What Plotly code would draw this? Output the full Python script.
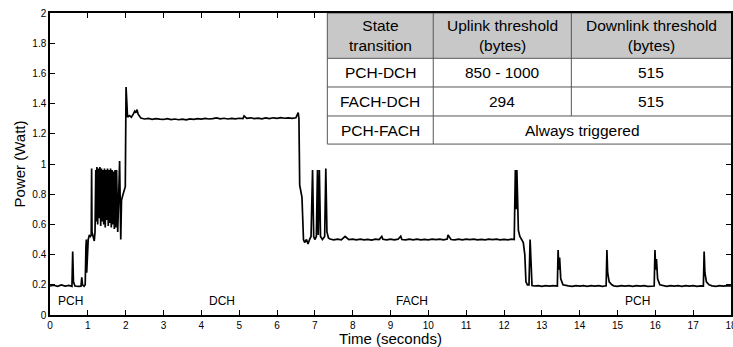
import plotly.graph_objects as go

# ---------------- data ----------------
time_s = [
    0.00, 0.10, 0.20, 0.30, 0.40, 0.50, 0.58, 0.60, 0.62, 0.66, 0.75, 0.82, 0.84, 0.86, 0.90, 0.93,
    0.95, 0.96, 0.97, 0.99, 1.01, 1.04, 1.07, 1.09, 1.10, 1.11, 1.14, 1.17, 1.19, 1.21,
    1.22, 1.24, 1.26, 1.28, 1.30, 1.32, 1.34, 1.36, 1.38, 1.40, 1.42, 1.44, 1.46, 1.48, 1.50,
    1.52, 1.54, 1.56, 1.58, 1.60, 1.62, 1.64, 1.66, 1.68, 1.70, 1.72, 1.74, 1.76, 1.79, 1.82,
    1.84, 1.87, 1.89, 1.92, 1.96, 1.99, 2.01, 2.03, 2.05, 2.10, 2.15, 2.20, 2.24, 2.27, 2.30,
    2.33, 2.37,
    2.4, 2.5, 2.6, 2.7, 2.8, 2.9, 3.0, 3.1, 3.2, 3.3, 3.4, 3.5, 3.6, 3.7, 3.8, 3.9, 4.0, 4.1,
    4.2, 4.3, 4.4, 4.5, 4.6, 4.7, 4.8, 4.9, 5.0, 5.1, 5.13, 5.2, 5.3, 5.4, 5.5, 5.6, 5.7, 5.8,
    5.9, 6.0, 6.1, 6.2, 6.3, 6.4, 6.5,
    6.56, 6.58, 6.60, 6.63, 6.66, 6.70, 6.73, 6.78, 6.82, 6.86, 6.90, 6.94, 6.97, 7.00, 7.04,
    7.07, 7.09, 7.12, 7.15, 7.20, 7.26, 7.29, 7.32, 7.36,
    7.4, 7.5, 7.6, 7.7, 7.8, 7.9, 8.0, 8.1, 8.2, 8.3, 8.4, 8.5, 8.6, 8.7, 8.77, 8.8, 8.9, 9.0,
    9.1, 9.2, 9.27, 9.3, 9.4, 9.5, 9.6, 9.7, 9.8, 9.9, 10.0, 10.1, 10.2, 10.3, 10.4, 10.5,
    10.52, 10.6, 10.7, 10.8, 10.9, 11.0, 11.1, 11.2, 11.3, 11.4, 11.5, 11.6, 11.7, 11.8, 11.9,
    12.0, 12.1, 12.2, 12.27,
    12.30, 12.32, 12.34, 12.38, 12.42, 12.47, 12.51, 12.55, 12.58, 12.62, 12.66, 12.69, 12.71,
    12.74,
    12.8, 12.9, 13.0, 13.1, 13.2, 13.3, 13.41, 13.43, 13.45, 13.47, 13.50, 13.56, 13.7, 13.8,
    13.9, 14.0, 14.1, 14.2, 14.3, 14.4, 14.5, 14.6, 14.70, 14.72, 14.74, 14.78, 14.85, 14.9,
    15.0, 15.1, 15.2, 15.3, 15.4, 15.5, 15.6, 15.7, 15.8, 15.9, 15.97, 15.99, 16.01, 16.03,
    16.06, 16.12, 16.2, 16.3, 16.4, 16.5, 16.6, 16.7, 16.8, 16.9, 17.0, 17.1, 17.2, 17.27,
    17.29, 17.31, 17.35, 17.42, 17.5, 17.6, 17.7, 17.8, 17.9, 18.0,
]
power_w = [
    0.192, 0.197, 0.190, 0.199, 0.191, 0.196, 0.190, 0.420, 0.220, 0.192, 0.190, 0.191, 0.250, 0.200, 0.190, 0.200,
    0.450, 0.500, 0.280, 0.450, 0.500, 0.530, 0.520, 0.530, 0.970, 0.550, 0.520, 0.490, 0.550, 0.960,
    0.620, 0.980, 0.600, 0.970, 0.640, 0.980, 0.590, 0.970, 0.620, 0.960, 0.600, 0.970, 0.580, 0.960, 0.630,
    0.970, 0.590, 0.960, 0.610, 0.970, 0.580, 0.960, 0.600, 0.950, 0.570, 0.960, 0.580, 0.960, 0.550, 0.980,
    1.020, 0.500, 0.760, 0.790, 0.830, 0.850, 1.510, 1.350, 1.310, 1.320, 1.310, 1.330, 1.350, 1.340, 1.360,
    1.330, 1.310,
    1.305, 1.298, 1.302, 1.296, 1.301, 1.297, 1.295, 1.300, 1.294, 1.298, 1.293, 1.297, 1.292, 1.299, 1.296, 1.301, 1.297, 1.302,
    1.298, 1.300, 1.305, 1.299, 1.303, 1.298, 1.302, 1.299, 1.303, 1.300, 1.318, 1.302, 1.306, 1.300, 1.304, 1.299, 1.305, 1.301,
    1.306, 1.302, 1.307, 1.303, 1.306, 1.302, 1.306,
    1.340, 1.300, 0.860, 0.810, 0.780, 0.500, 0.480, 0.500, 0.470, 0.500, 0.520, 0.960, 0.520, 0.500, 0.520,
    0.960, 0.530, 0.960, 0.520, 0.500, 0.520, 0.970, 0.550, 0.510,
    0.503, 0.498, 0.502, 0.497, 0.520, 0.499, 0.503, 0.497, 0.502, 0.498, 0.501, 0.496, 0.502, 0.499, 0.520, 0.501, 0.497, 0.503,
    0.498, 0.502, 0.522, 0.500, 0.497, 0.502, 0.498, 0.503, 0.497, 0.501, 0.498, 0.503, 0.499, 0.502, 0.497, 0.503,
    0.530, 0.500, 0.497, 0.502, 0.498, 0.503, 0.499, 0.502, 0.497, 0.501, 0.498, 0.503, 0.499, 0.502, 0.497,
    0.501, 0.498, 0.502, 0.500,
    0.960, 0.700, 0.960, 0.560, 0.520, 0.500, 0.480, 0.400, 0.220, 0.200, 0.200, 0.500, 0.300,
    0.195,
    0.192, 0.195, 0.190, 0.194, 0.191, 0.195, 0.192, 0.430, 0.300, 0.380, 0.240, 0.200, 0.193, 0.190,
    0.195, 0.191, 0.194, 0.190, 0.195, 0.191, 0.194, 0.190, 0.193, 0.430, 0.280, 0.220, 0.200, 0.193,
    0.190, 0.195, 0.191, 0.194, 0.190, 0.195, 0.191, 0.194, 0.190, 0.193, 0.192, 0.430, 0.300, 0.370,
    0.240, 0.200, 0.194, 0.190, 0.195, 0.191, 0.194, 0.190, 0.195, 0.191, 0.194, 0.190, 0.193, 0.192,
    0.420, 0.280, 0.220, 0.200, 0.193, 0.190, 0.195, 0.191, 0.194, 0.192,
]

state_labels = ["PCH", "DCH", "FACH", "PCH"]
state_label_t = [0.53, 4.54, 9.56, 15.53]
state_label_p = [0.095, 0.095, 0.095, 0.095]

table_header = ["State<br>transition", "Uplink threshold<br>(bytes)", "Downlink threshold<br>(bytes)"]
table_transition = ["PCH-DCH", "FACH-DCH", "PCH-FACH"]
table_uplink = ["850 - 1000", "294", "Always triggered"]
table_downlink = ["515", "515", None]   # last row: merged cell

x_ticks = list(range(0, 19))
y_ticks = [0, 0.2, 0.4, 0.6, 0.8, 1, 1.2, 1.4, 1.6, 1.8, 2]

# ---------------- figure ----------------
FONT = "Liberation Sans, Arial, Helvetica, sans-serif"

fig = go.Figure()
fig.add_trace(go.Scatter(
    x=time_s, y=power_w, mode="lines",
    line=dict(color="black", width=1.7),
    showlegend=False, hoverinfo="skip",
))

annotations = []
for lab, t, p in zip(state_labels, state_label_t, state_label_p):
    annotations.append(dict(x=t, y=p, xref="x", yref="y", text=lab, showarrow=False,
                            font=dict(family=FONT, size=12, color="black")))

# table geometry (data coordinates)
col_edges = [7.33, 10.13, 13.78, 18.0]
row_edges = [2.0, 1.70, 1.51, 1.318, 1.132]
border = dict(color="#555555", width=1)

shapes = []
shapes.append(dict(type="rect", xref="x", yref="y", x0=col_edges[0], x1=col_edges[-1],
                   y0=row_edges[1], y1=row_edges[0], fillcolor="#c8c8c8", line=dict(width=0),
                   layer="above"))
shapes.append(dict(type="rect", xref="x", yref="y", x0=col_edges[0], x1=col_edges[-1],
                   y0=row_edges[-1], y1=row_edges[1], fillcolor="white", line=dict(width=0),
                   layer="above"))
for r in row_edges:
    shapes.append(dict(type="line", xref="x", yref="y", x0=col_edges[0], x1=col_edges[-1],
                       y0=r, y1=r, line=border, layer="above"))
shapes.append(dict(type="line", xref="x", yref="y", x0=col_edges[0], x1=col_edges[0],
                   y0=row_edges[-1], y1=row_edges[0], line=border, layer="above"))
shapes.append(dict(type="line", xref="x", yref="y", x0=col_edges[1], x1=col_edges[1],
                   y0=row_edges[-1], y1=row_edges[0], line=border, layer="above"))
shapes.append(dict(type="line", xref="x", yref="y", x0=col_edges[2], x1=col_edges[2],
                   y0=row_edges[3], y1=row_edges[0], line=border, layer="above"))

tfont = dict(family=FONT, size=15.5, color="black")
def cell(text, x0, x1, y0, y1):
    annotations.append(dict(x=(x0 + x1) / 2, y=(y0 + y1) / 2, xref="x", yref="y",
                            text=text, showarrow=False, font=tfont, align="center"))

for j, h in enumerate(table_header):
    cell(h, col_edges[j], col_edges[j + 1], row_edges[1], row_edges[0])
for i in range(3):
    ya, yb = row_edges[i + 2], row_edges[i + 1]
    cell(table_transition[i], col_edges[0], col_edges[1], ya, yb)
    if table_downlink[i] is None:
        cell(table_uplink[i], col_edges[1], col_edges[3], ya, yb)
    else:
        cell(table_uplink[i], col_edges[1], col_edges[2], ya, yb)
        cell(table_downlink[i], col_edges[2], col_edges[3], ya, yb)

axis_common = dict(
    showline=True, linecolor="black", linewidth=1.5, mirror="ticks",
    ticks="inside", ticklen=5, tickwidth=1, tickcolor="black",
    showgrid=False, zeroline=False, automargin=False,
    tickfont=dict(family=FONT, size=10, color="black"),
)

fig.update_layout(
    width=733, height=347,
    margin=dict(l=50, r=2, t=13, b=32, autoexpand=False),
    paper_bgcolor="white", plot_bgcolor="white",
    xaxis=dict(range=[0, 18], tickvals=x_ticks, ticktext=[str(v) for v in x_ticks],
               ticklabeloverflow="allow",
               title=dict(text="Time (seconds)", font=dict(family=FONT, size=15, color="black"),
                          standoff=0),
               **axis_common),
    yaxis=dict(range=[0, 2], tickvals=y_ticks, ticktext=[("%g" % v) for v in y_ticks],
               title=dict(text="Power (Watt)", font=dict(family=FONT, size=15, color="black"),
                          standoff=3),
               **axis_common),
    annotations=annotations,
    shapes=shapes,
)

fig.write_html("out.html")
